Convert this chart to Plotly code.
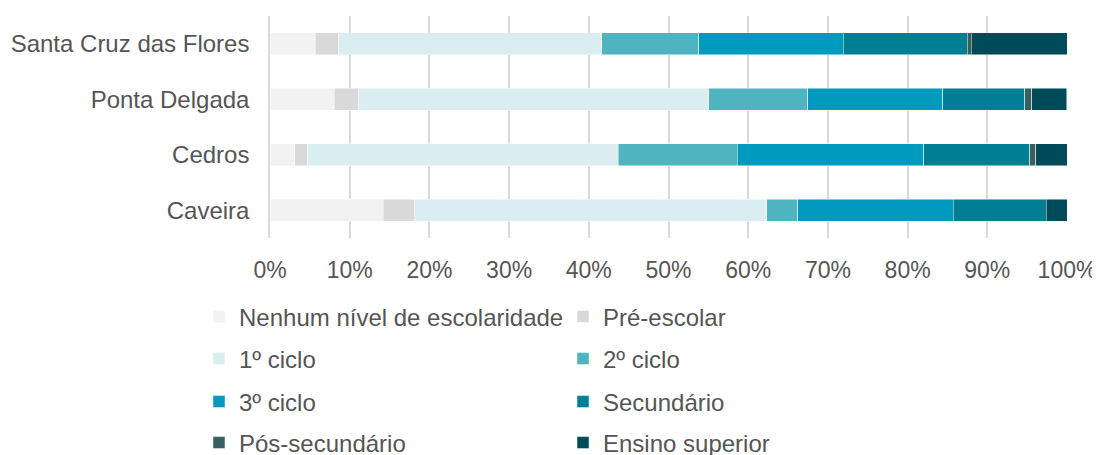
import plotly.graph_objects as go

categories = ["Santa Cruz das Flores", "Ponta Delgada", "Cedros", "Caveira"]
series_names = ["Nenhum nível de escolaridade", "Pré-escolar", "1º ciclo", "2º ciclo",
                "3º ciclo", "Secundário", "Pós-secundário", "Ensino superior"]

nenhum = [0.0565, 0.0803, 0.031, 0.142]
pre_escolar = [0.030, 0.0305, 0.0155, 0.039]
ciclo1 = [0.330, 0.440, 0.3905, 0.442]
ciclo2 = [0.1215, 0.124, 0.149, 0.039]
ciclo3 = [0.181, 0.169, 0.234, 0.195]
secundario = [0.156, 0.103, 0.133, 0.117]
pos_secundario = [0.005, 0.009, 0.008, 0.0]
superior = [0.120, 0.044, 0.039, 0.026]

series_values = [nenhum, pre_escolar, ciclo1, ciclo2, ciclo3, secundario, pos_secundario, superior]
colors = ["#F2F2F2", "#D9D9D9", "#DAEEF1", "#4FB4C0", "#009ABF", "#007F93", "#3A5F5F", "#004B59"]

tick_vals = [i / 10 for i in range(11)]
tick_text = [f"{i * 10}%" for i in range(11)]

FONT = "Liberation Sans, Arial, sans-serif"
TXT = "#555555"
FS = 24

fig = go.Figure()
legend_ids = ["legend", "legend2", "legend3", "legend4"]
for i, (name, vals, col) in enumerate(zip(series_names, series_values, colors)):
    fig.add_trace(go.Bar(
        name=name, y=categories, x=vals, orientation="h",
        marker=dict(color=col, line=dict(color="rgba(255,255,255,0.6)", width=0.8)),
        width=0.4, legend=legend_ids[i // 2],
    ))

W, H = 1100, 455
row_y = [309, 351, 394, 435]
legend_common = dict(orientation="h", xref="container", yref="container",
                     x=191 / W, xanchor="left", yanchor="middle",
                     font=dict(family=FONT, size=FS, color=TXT),
                     entrywidth=319, itemwidth=30, bgcolor="rgba(0,0,0,0)",
                     traceorder="normal")
legends = {}
for j, lid in enumerate(legend_ids):
    legends[lid] = dict(legend_common, y=1 - row_y[j] / H)

fig.update_layout(
    width=W, height=H,
    barmode="stack",
    margin=dict(l=262, r=41, t=8, b=225, autoexpand=False),
    paper_bgcolor="white", plot_bgcolor="white",
    font=dict(family=FONT, size=FS, color=TXT),
    showlegend=True,
    xaxis=dict(range=[0, 1], tickvals=tick_vals, ticktext=tick_text,
               showgrid=True, gridcolor="#D9D9D9", gridwidth=1.5,
               zeroline=False, showline=False, ticks="", automargin=False,
               ticklabelstandoff=16,
               tickfont=dict(family=FONT, size=23, color=TXT)),
    yaxis=dict(categoryorder="array", categoryarray=categories, autorange="reversed",
               showline=True, linecolor="#D9D9D9", linewidth=1.5, automargin=False,
               showgrid=False, ticks="", ticklabelstandoff=14,
               tickfont=dict(family=FONT, size=FS, color=TXT)),
    **legends,
)

fig.write_html("out.html")
